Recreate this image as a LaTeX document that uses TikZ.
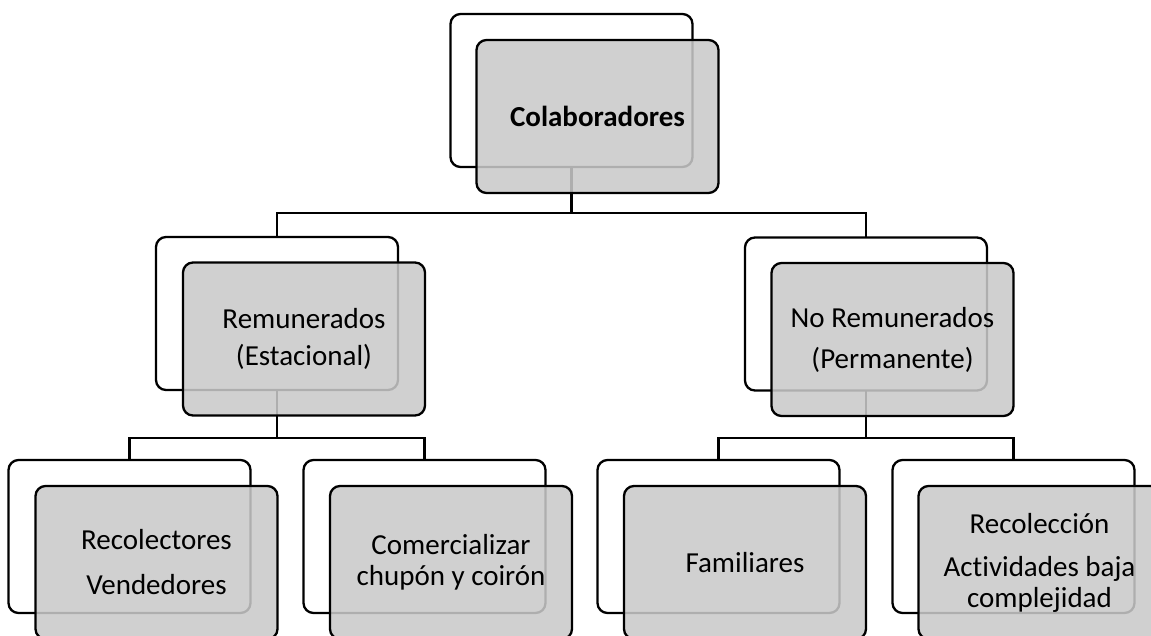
\documentclass[tikz,border=0pt]{standalone}
\usepackage{fontspec}
\setmainfont{Carlito}[Ligatures=NoCommon]
\definecolor{frontgray}{RGB}{201,201,201}
\tikzset{
  backbox/.style={draw=black, line width=2.3pt, rounded corners=10pt, minimum width=242pt, minimum height=153pt, inner sep=0pt, outer sep=0pt},
  frontbox/.style={draw=black, line width=2.3pt, rounded corners=10pt, minimum width=242pt, minimum height=153pt, inner sep=0pt, outer sep=0pt,
    fill=frontgray, fill opacity=0.87, text opacity=1, draw opacity=1, align=center, font=\fontsize{29}{31}\selectfont},
  conn/.style={draw=black, line width=2.3pt}
}
\begin{document}
\begin{tikzpicture}[x=1pt,y=-1pt]
\useasboundingbox (0,0) rectangle (1151,635);
% back boxes
\node[backbox] (cb) at (571.5,90.5) {};
\node[backbox] (rb) at (277,313.5) {};
\node[backbox] (nb) at (866,314) {};
\node[backbox] (b1b) at (129.5,536.5) {};
\node[backbox] (b2b) at (424.5,536.5) {};
\node[backbox] (b3b) at (718.5,536.5) {};
\node[backbox] (b4b) at (1013.5,536.5) {};
% junction levels
\coordinate (m1) at (0,213);
\coordinate (m2) at (0,438);
% connectors
\draw[conn] (cb.south) -- (cb.south |- m1) -| (rb.north);
\draw[conn] (cb.south |- m1) -| (nb.north);
\draw[conn] (rb.south) -- (rb.south |- m2) -| (b1b.north);
\draw[conn] (rb.south |- m2) -| (b2b.north);
\draw[conn] (nb.south) -- (nb.south |- m2) -| (b3b.north);
\draw[conn] (nb.south |- m2) -| (b4b.north);
% front boxes
\node[frontbox] (cf) at (597.5,116.5) {\textbf{Colaboradores}};
\node[frontbox] (rf) at (304,339) {Remunerados\\[6pt](Estacional)};
\node[frontbox] (nf) at (892.5,339.5) {No Remunerados\\[10pt](Permanente)};
\node[frontbox] (b1f) at (156.5,562.5) {Recolectores\\[14pt]Vendedores};
\node[frontbox] (b2f) at (451,562.5) {Comercializar\\chupón y coirón};
\node[frontbox] (b3f) at (745,562.5) {Familiares};
\node[frontbox] (b4f) at (1039.5,562.5) {Recolección\\[12pt]Actividades baja\\complejidad};
\end{tikzpicture}
\end{document}
